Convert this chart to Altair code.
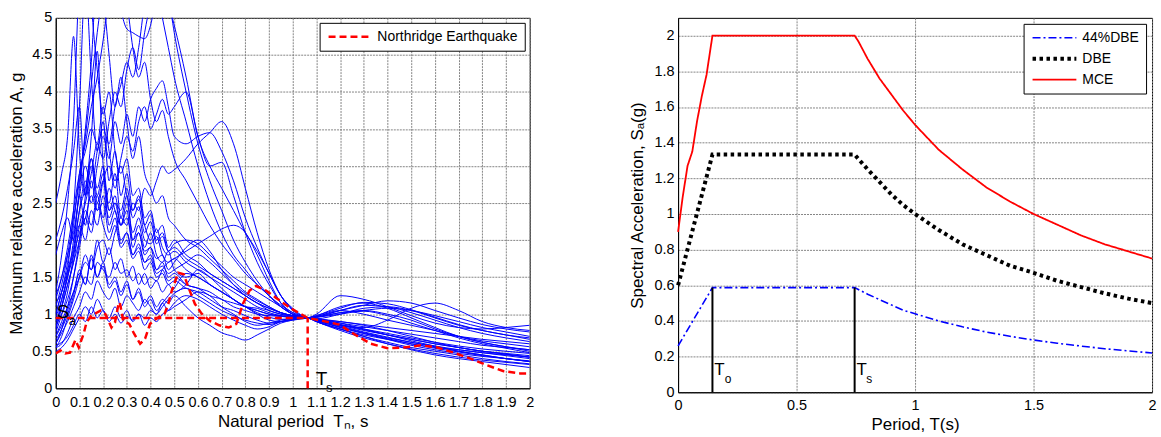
import altair as alt
import pandas as pd

# ---------------- Left panel: scaled response spectra ----------------
PERIOD_GRID = [0, 0.025, 0.05, 0.075, 0.1, 0.125, 0.15, 0.175, 0.2, 0.225,
               0.25, 0.275, 0.3, 0.325, 0.35, 0.375, 0.4, 0.425, 0.45, 0.475,
               0.5, 0.55, 0.6, 0.65, 0.7, 0.75, 0.8, 0.85, 0.9, 0.95,
               1.0, 1.063, 1.1, 1.2, 1.3, 1.4, 1.5, 1.6, 1.7, 1.8,
               1.9, 2.0]

REC_01 = [2.50, 2.90, 3.40, 4.75, 3.20, 2.60, 3.10, 2.70, 3.00, 2.40,
          2.60, 2.20, 2.40, 1.90, 2.10, 1.80, 1.90, 1.60, 1.70, 1.50,
          1.55, 1.40, 1.35, 1.25, 1.20, 1.10, 1.05, 1.00, 0.98, 0.97,
          0.96, 0.95, 0.92, 0.82, 0.74, 0.66, 0.58, 0.52, 0.47, 0.43,
          0.40, 0.37]
REC_02 = [1.30, 1.80, 2.50, 3.60, 5.60, 6.50, 5.20, 4.30, 3.70, 4.00,
          3.20, 2.90, 3.10, 2.60, 2.70, 2.30, 2.40, 2.10, 2.20, 1.90,
          2.00, 1.80, 1.70, 1.55, 1.45, 1.35, 1.25, 1.15, 1.08, 1.02,
          0.98, 0.95, 0.96, 1.02, 1.05, 1.00, 0.92, 0.80, 0.70, 0.62,
          0.56, 0.52]
REC_03 = [1.10, 1.40, 1.80, 2.30, 2.80, 3.40, 4.10, 4.80, 5.40, 5.80,
          5.50, 5.10, 4.85, 4.80, 4.75, 4.72, 4.90, 5.30, 5.60, 5.30,
          4.80, 4.00, 3.30, 2.80, 2.40, 2.00, 1.70, 1.45, 1.25, 1.10,
          1.00, 0.95, 0.98, 1.10, 1.15, 1.08, 0.95, 0.82, 0.70, 0.62,
          0.56, 0.50]
REC_04 = [0.90, 1.10, 1.40, 1.70, 2.20, 2.50, 2.90, 3.30, 3.10, 3.60,
          4.00, 3.80, 4.30, 4.60, 4.30, 4.80, 5.20, 5.50, 5.40, 5.20,
          4.90, 4.20, 3.40, 3.00, 2.70, 2.40, 2.10, 1.85, 1.55, 1.25,
          1.08, 0.95, 0.94, 1.00, 1.08, 1.10, 1.05, 0.95, 0.85, 0.78,
          0.72, 0.68]
REC_05 = [0.80, 1.20, 1.50, 2.00, 2.70, 3.50, 4.40, 5.60, 5.30, 4.50,
          3.80, 4.20, 3.60, 3.10, 3.40, 2.90, 2.70, 2.50, 2.60, 2.30,
          2.20, 2.00, 1.90, 1.75, 1.60, 1.45, 1.30, 1.20, 1.10, 1.02,
          0.98, 0.95, 0.92, 0.85, 0.78, 0.72, 0.66, 0.60, 0.55, 0.50,
          0.47, 0.44]
REC_06 = [0.70, 0.90, 1.10, 1.30, 1.50, 1.70, 1.60, 1.90, 2.00, 1.80,
          2.10, 2.30, 2.20, 2.50, 2.40, 2.70, 2.60, 2.80, 3.00, 2.90,
          2.95, 3.10, 3.30, 3.45, 3.60, 3.30, 2.70, 2.10, 1.60, 1.25,
          1.05, 0.95, 0.96, 1.05, 1.12, 1.10, 1.02, 0.92, 0.82, 0.74,
          0.68, 0.63]
REC_07 = [1.00, 1.30, 1.60, 1.90, 2.40, 2.80, 2.50, 3.00, 3.40, 3.10,
          3.60, 3.30, 3.70, 3.40, 3.80, 3.60, 3.90, 4.05, 4.15, 3.80,
          3.40, 3.30, 3.40, 3.45, 3.20, 2.80, 2.30, 1.90, 1.55, 1.25,
          1.06, 0.95, 0.93, 0.90, 0.85, 0.78, 0.70, 0.62, 0.55, 0.50,
          0.46, 0.42]
REC_08 = [0.95, 1.20, 1.50, 1.80, 2.10, 2.30, 2.60, 2.40, 2.80, 3.00,
          2.70, 3.10, 3.40, 3.20, 3.60, 3.80, 3.50, 3.70, 3.90, 3.70,
          3.80, 4.00, 3.40, 3.00, 3.05, 2.60, 2.10, 1.70, 1.40, 1.15,
          1.02, 0.95, 0.97, 1.05, 1.00, 0.92, 0.85, 0.78, 0.70, 0.64,
          0.60, 0.56]
REC_09 = [1.20, 1.50, 1.90, 2.40, 2.90, 3.20, 3.50, 3.30, 3.80, 3.20,
          2.80, 3.00, 2.60, 2.40, 2.55, 2.20, 2.00, 2.15, 1.90, 1.80,
          1.85, 1.70, 1.60, 1.50, 1.40, 1.30, 1.20, 1.10, 1.05, 1.00,
          0.97, 0.95, 0.90, 0.80, 0.72, 0.66, 0.60, 0.55, 0.52, 0.48,
          0.45, 0.42]
REC_10 = [0.60, 0.80, 1.10, 1.50, 2.00, 2.60, 3.40, 4.55, 3.00, 2.50,
          2.90, 2.30, 2.60, 2.00, 2.20, 1.90, 2.10, 1.80, 1.70, 1.85,
          1.60, 1.50, 1.55, 1.40, 1.30, 1.20, 1.10, 1.08, 1.02, 0.98,
          0.96, 0.95, 0.96, 1.00, 1.05, 1.08, 1.05, 0.98, 0.90, 0.82,
          0.76, 0.70]
REC_11 = [2.00, 2.30, 2.70, 3.20, 3.80, 2.60, 3.00, 2.50, 2.80, 2.20,
          2.40, 2.00, 2.10, 1.80, 1.95, 1.70, 1.75, 1.55, 1.60, 1.45,
          1.50, 1.40, 1.35, 1.30, 1.20, 1.15, 1.10, 1.05, 1.00, 0.98,
          0.96, 0.95, 0.92, 0.86, 0.80, 0.74, 0.68, 0.62, 0.57, 0.53,
          0.50, 0.47]
REC_12 = [0.75, 1.00, 1.30, 1.80, 2.40, 2.70, 3.10, 2.60, 2.90, 2.40,
          2.50, 2.20, 2.30, 2.00, 2.10, 1.85, 1.90, 1.75, 1.80, 1.60,
          1.70, 1.90, 2.00, 1.85, 1.60, 1.40, 1.25, 1.15, 1.08, 1.02,
          0.98, 0.95, 0.93, 0.88, 0.83, 0.78, 0.73, 0.68, 0.63, 0.58,
          0.55, 0.52]
REC_13 = [0.55, 0.70, 0.95, 1.20, 1.50, 1.80, 1.60, 2.00, 1.70, 1.90,
          1.60, 1.75, 1.50, 1.65, 1.40, 1.55, 1.35, 1.45, 1.30, 1.40,
          1.30, 1.40, 1.60, 1.50, 1.35, 1.20, 1.10, 1.05, 1.00, 0.97,
          0.96, 0.95, 0.90, 0.78, 0.68, 0.60, 0.53, 0.47, 0.42, 0.38,
          0.35, 0.32]
REC_14 = [0.55, 0.60, 0.75, 0.95, 1.10, 1.30, 1.20, 1.45, 1.30, 1.20,
          1.35, 1.10, 1.25, 1.15, 1.05, 1.20, 1.10, 1.00, 1.15, 1.05,
          1.10, 1.20, 1.30, 1.25, 1.10, 1.00, 0.90, 0.85, 0.88, 0.92,
          0.94, 0.95, 0.97, 1.05, 1.12, 1.18, 1.15, 1.05, 0.95, 0.86,
          0.80, 0.76]
REC_15 = [0.65, 0.80, 1.00, 1.25, 1.60, 1.40, 1.80, 1.50, 1.70, 1.40,
          1.50, 1.30, 1.45, 1.20, 1.35, 1.15, 1.25, 1.10, 1.20, 1.15,
          1.25, 1.10, 0.95, 0.85, 0.75, 0.70, 0.65, 0.72, 0.80, 0.88,
          0.92, 0.95, 0.94, 0.90, 0.86, 0.82, 0.78, 0.74, 0.70, 0.66,
          0.63, 0.60]
REC_16 = [0.85, 1.00, 1.20, 1.50, 1.90, 2.30, 2.10, 2.50, 2.20, 2.00,
          2.20, 1.90, 2.00, 1.75, 1.85, 1.60, 1.70, 1.50, 1.55, 1.40,
          1.45, 1.35, 1.30, 1.20, 1.10, 1.05, 0.98, 0.92, 0.88, 0.90,
          0.93, 0.95, 0.93, 0.85, 0.82, 0.92, 1.08, 1.15, 1.05, 0.90,
          0.82, 0.78]
REC_17 = [0.50, 0.55, 0.65, 0.80, 0.95, 1.10, 1.00, 1.20, 1.05, 0.95,
          1.10, 0.95, 1.05, 0.90, 1.00, 0.85, 0.95, 0.90, 1.00, 1.05,
          1.15, 1.25, 1.20, 1.10, 1.00, 0.92, 0.85, 0.80, 0.83, 0.90,
          0.93, 0.95, 0.90, 0.80, 0.70, 0.62, 0.55, 0.50, 0.45, 0.40,
          0.36, 0.33]
REC_18 = [0.60, 0.75, 0.90, 1.10, 1.30, 1.50, 1.40, 1.70, 1.60, 1.50,
          1.70, 1.55, 1.60, 1.45, 1.55, 1.40, 1.50, 1.45, 1.60, 1.70,
          1.75, 1.85, 1.95, 2.05, 2.15, 2.20, 2.10, 1.80, 1.45, 1.15,
          1.00, 0.95, 0.96, 1.02, 1.04, 0.98, 0.88, 0.78, 0.68, 0.60,
          0.54, 0.48]
REC_19 = [1.15, 1.30, 1.55, 1.85, 2.20, 2.00, 2.40, 2.20, 2.60, 2.30,
          2.50, 2.40, 2.70, 2.30, 2.45, 2.10, 2.25, 1.95, 2.05, 1.85,
          1.95, 2.00, 1.95, 1.80, 1.65, 1.50, 1.40, 1.30, 1.20, 1.10,
          1.00, 0.95, 0.92, 0.84, 0.76, 0.69, 0.62, 0.56, 0.50, 0.45,
          0.40, 0.36]
REC_20 = [1.00, 1.30, 1.70, 2.20, 2.90, 3.30, 3.80, 4.20, 4.70, 5.30,
          5.80, 5.50, 5.20, 4.60, 4.20, 4.40, 3.90, 3.60, 3.75, 3.40,
          3.10, 2.80, 2.50, 2.20, 1.95, 1.75, 1.55, 1.40, 1.25, 1.12,
          1.02, 0.95, 0.90, 0.80, 0.70, 0.60, 0.52, 0.45, 0.40, 0.36,
          0.32, 0.28]
REC_21 = [1.25, 1.50, 1.80, 2.10, 2.60, 3.00, 2.70, 3.20, 3.50, 3.30,
          3.80, 4.10, 4.40, 4.20, 4.60, 5.20, 5.60, 5.40, 5.00, 4.60,
          4.20, 3.60, 3.00, 2.50, 2.10, 1.80, 1.60, 1.40, 1.25, 1.10,
          1.00, 0.95, 0.93, 0.86, 0.79, 0.72, 0.66, 0.60, 0.55, 0.50,
          0.46, 0.42]
REC_22 = [0.70, 0.85, 1.05, 1.30, 1.55, 1.40, 1.75, 1.50, 1.65, 1.35,
          1.45, 1.25, 1.40, 1.20, 1.30, 1.10, 1.20, 1.05, 1.15, 1.25,
          1.35, 1.55, 1.50, 1.40, 1.30, 1.20, 1.10, 1.00, 0.92, 0.90,
          0.92, 0.95, 0.98, 1.08, 1.16, 1.14, 1.06, 0.96, 0.86, 0.78,
          0.72, 0.66]
REC_23 = [0.57, 0.62, 0.70, 0.85, 1.00, 0.90, 1.10, 0.95, 1.05, 0.90,
          1.00, 0.88, 0.97, 0.92, 1.00, 0.95, 1.05, 1.00, 1.10, 1.20,
          1.28, 1.35, 1.25, 1.15, 1.05, 0.98, 0.92, 0.88, 0.86, 0.90,
          0.93, 0.95, 0.94, 0.88, 0.80, 0.72, 0.64, 0.57, 0.50, 0.45,
          0.40, 0.36]
REC_24 = [1.80, 2.10, 2.30, 2.00, 2.60, 2.20, 2.80, 2.40, 2.50, 2.10,
          2.30, 1.95, 2.10, 1.80, 1.90, 1.70, 1.80, 1.60, 1.65, 1.55,
          1.60, 1.70, 1.80, 1.70, 1.55, 1.40, 1.28, 1.18, 1.10, 1.02,
          0.98, 0.95, 0.91, 0.83, 0.75, 0.68, 0.62, 0.57, 0.52, 0.48,
          0.44, 0.40]
REC_25 = [0.90, 1.10, 1.40, 1.70, 2.00, 2.40, 2.20, 2.60, 2.30, 2.70,
          2.40, 2.20, 2.50, 2.10, 2.30, 2.00, 1.95, 2.05, 1.80, 1.70,
          1.75, 1.60, 1.50, 1.40, 1.30, 1.20, 1.10, 1.02, 0.96, 0.93,
          0.94, 0.95, 1.00, 1.25, 1.20, 1.10, 0.98, 0.88, 0.82, 0.80,
          0.82, 0.85]
REC_26 = [0.80, 1.10, 1.60, 2.40, 3.80, 5.50, 4.20, 3.20, 3.60, 2.80,
          3.20, 2.60, 2.90, 2.40, 2.60, 2.20, 2.35, 2.00, 2.10, 1.85,
          1.90, 1.75, 1.65, 1.55, 1.45, 1.35, 1.25, 1.15, 1.05, 1.00,
          0.97, 0.95, 0.91, 0.82, 0.74, 0.67, 0.60, 0.54, 0.49, 0.44,
          0.40, 0.36]

RECORDS = [REC_01, REC_02, REC_03, REC_04, REC_05, REC_06, REC_07, REC_08,
           REC_09, REC_10, REC_11, REC_12, REC_13, REC_14, REC_15, REC_16,
           REC_17, REC_18, REC_19, REC_20, REC_21, REC_22, REC_23, REC_24,
           REC_25, REC_26]

NORTH_T = [0, 0.02, 0.04, 0.06, 0.083, 0.097, 0.118, 0.13, 0.15, 0.19,
           0.21, 0.235, 0.25, 0.265, 0.27, 0.285, 0.31, 0.33, 0.356, 0.377,
           0.398, 0.425, 0.46, 0.475, 0.49, 0.517, 0.54, 0.56, 0.587, 0.615,
           0.65, 0.69, 0.73, 0.762, 0.79, 0.818, 0.845, 0.887, 0.93, 0.986,
           1.063, 1.126, 1.196, 1.27, 1.33, 1.40, 1.47, 1.54, 1.61, 1.68,
           1.75, 1.82, 1.89, 1.96, 2.0]
NORTH_A = [0.47, 0.51, 0.47, 0.48, 0.65, 0.55, 0.74, 0.89, 0.98, 1.05,
           1.00, 0.82, 0.89, 1.14, 1.16, 0.91, 0.87, 0.74, 0.60, 0.67,
           0.87, 0.94, 1.01, 1.14, 1.32, 1.56, 1.54, 1.36, 1.14, 1.01,
           0.91, 0.85, 0.82, 0.87, 1.14, 1.32, 1.38, 1.32, 1.22, 1.09,
           0.95, 0.91, 0.86, 0.71, 0.60, 0.54, 0.55, 0.58, 0.55, 0.48,
           0.40, 0.31, 0.23, 0.20, 0.20]

SA_LEVEL = 0.95
TS_LEFT = 1.063
LEFT_X_TICKS = [0, 0.1, 0.2, 0.3, 0.4, 0.5, 0.6, 0.7, 0.8, 0.9, 1.0,
                1.1, 1.2, 1.3, 1.4, 1.5, 1.6, 1.7, 1.8, 1.9, 2.0]
LEFT_Y_TICKS = [0, 0.5, 1, 1.5, 2, 2.5, 3, 3.5, 4, 4.5, 5]

# ---------------- Right panel: design spectra ----------------
MCE_T = [0, 0.02, 0.04, 0.06, 0.08, 0.1, 0.12, 0.145, 0.745, 0.76, 0.78,
         0.8, 0.85, 0.9, 0.95, 1.0, 1.1, 1.2, 1.3, 1.4, 1.5, 1.6, 1.7, 1.8,
         1.9, 2.0]
MCE_SA = [0.90, 1.10, 1.27, 1.35, 1.52, 1.66, 1.78, 2.0, 2.0, 1.97, 1.92,
          1.87, 1.76, 1.67, 1.58, 1.50, 1.36, 1.25, 1.15, 1.07, 1.00, 0.94,
          0.88, 0.83, 0.79, 0.75]
DBE_T = [0, 0.145, 0.745, 0.8, 0.85, 0.9, 0.95, 1.0, 1.1, 1.2, 1.3, 1.4,
         1.5, 1.6, 1.7, 1.8, 1.9, 2.0]
DBE_SA = [0.60, 1.333, 1.333, 1.25, 1.18, 1.11, 1.05, 1.00, 0.91, 0.83,
          0.77, 0.71, 0.67, 0.625, 0.59, 0.555, 0.525, 0.50]
DBE44_T = [0, 0.145, 0.745, 0.8, 0.85, 0.9, 0.95, 1.0, 1.1, 1.2, 1.3, 1.4,
           1.5, 1.6, 1.7, 1.8, 1.9, 2.0]
DBE44_SA = [0.26, 0.587, 0.587, 0.55, 0.52, 0.49, 0.46, 0.44, 0.40, 0.367,
            0.338, 0.314, 0.293, 0.275, 0.259, 0.244, 0.232, 0.22]
T0_RIGHT = 0.145
TS_RIGHT = 0.745
PLATEAU_44 = 0.587
SERIES = ["44%DBE", "DBE", "MCE"]
RIGHT_X_TICKS = [0, 0.5, 1, 1.5, 2]
RIGHT_Y_TICKS = [0, 0.2, 0.4, 0.6, 0.8, 1.0, 1.2, 1.4, 1.6, 1.8, 2.0]

FONT = "Liberation Sans"
LINE_SYMBOL = "M-1,0H7"

# ---------- build tables ----------
rows = []
for i, rec in enumerate(RECORDS):
    for t, a in zip(PERIOD_GRID, rec):
        rows.append({"T": t, "A": a, "rec": f"r{i}"})
spectra = pd.DataFrame(rows)
north = pd.DataFrame({"T": NORTH_T, "A": NORTH_A, "name": "Northridge Earthquake"})

left_x = alt.X("T:Q", scale=alt.Scale(domain=[0, 2], nice=False),
               axis=alt.Axis(values=LEFT_X_TICKS, tickCount=40, format="~g", grid=True,
                             ticks=False, labelPadding=7, titlePadding=5,
                             labelOverlap=False, labelFlush=False,
                             title="Natural period\u00a0 T\u2099, s"))
left_y = alt.Y("A:Q", scale=alt.Scale(domain=[0, 5], nice=False),
               axis=alt.Axis(values=LEFT_Y_TICKS, tickCount=40, format="~g", grid=True,
                             ticks=False, labelPadding=4, titlePadding=6,
                             labelOverlap=False, labelFlush=False,
                             title="Maximum relative acceleration A, g"))

blue = alt.Chart(spectra).mark_line(color="#0000ff", strokeWidth=1, clip=True,
                                    interpolate="monotone").encode(
    x=left_x, y=left_y, detail="rec:N")

legend_left = alt.Legend(title=None, orient="top-right", offset=5, symbolType=LINE_SYMBOL,
                         symbolSize=100, strokeColor="black", fillColor="white",
                         padding=7, labelFontSize=14, labelFont=FONT, labelOffset=37,
                         symbolStrokeWidth=2.5, cornerRadius=0)
red = alt.Chart(north).mark_line(strokeWidth=2.5, clip=True).encode(
    x="T:Q", y="A:Q",
    color=alt.Color("name:N", scale=alt.Scale(domain=["Northridge Earthquake"], range=["#ff0000"]),
                    legend=legend_left),
    strokeDash=alt.StrokeDash("name:N", scale=alt.Scale(domain=["Northridge Earthquake"],
                                                        range=[[7, 4]]),
                              legend=legend_left))

sa_h = alt.Chart(pd.DataFrame({"x": [0], "x2": [TS_LEFT], "y": [SA_LEVEL]})).mark_rule(
    color="#ff0000", strokeWidth=2.5, strokeDash=[7, 4]).encode(x="x:Q", x2="x2:Q", y="y:Q")
ts_v = alt.Chart(pd.DataFrame({"x": [TS_LEFT], "y": [0], "y2": [SA_LEVEL]})).mark_rule(
    color="#ff0000", strokeWidth=2.5, strokeDash=[7, 4]).encode(x="x:Q", y="y:Q", y2="y2:Q")

big_left = pd.DataFrame({"x": [0.004, 1.097], "y": [SA_LEVEL, 0.04], "t": ["S", "T"]})
small_left = pd.DataFrame({"x": [0.055, 1.14], "y": [0.85, -0.05], "t": ["a", "s"]})
lab_big = alt.Chart(big_left).mark_text(align="left", baseline="alphabetic", fontSize=19,
                                         font=FONT, color="black").encode(
    x="x:Q", y="y:Q", text="t:N")
lab_small = alt.Chart(small_left).mark_text(align="left", baseline="alphabetic", fontSize=13,
                                             font=FONT, color="black").encode(
    x="x:Q", y="y:Q", text="t:N")

left = alt.layer(blue, red, sa_h, ts_v, lab_big, lab_small).properties(width=476, height=372)

# ---------- right chart ----------
design = pd.concat([
    pd.DataFrame({"T": DBE44_T, "Sa": DBE44_SA, "series": "44%DBE"}),
    pd.DataFrame({"T": DBE_T, "Sa": DBE_SA, "series": "DBE"}),
    pd.DataFrame({"T": MCE_T, "Sa": MCE_SA, "series": "MCE"}),
], ignore_index=True)

right_x = alt.X("T:Q", scale=alt.Scale(domain=[0, 2], nice=False),
                axis=alt.Axis(values=RIGHT_X_TICKS, tickCount=40, format="~g", grid=True,
                              ticks=False, labelPadding=6, titlePadding=5, labelFlush=False,
                              title="Period, T(s)"))
right_y = alt.Y("Sa:Q", scale=alt.Scale(domain=[0, 2.1], nice=False),
                axis=alt.Axis(values=RIGHT_Y_TICKS, tickCount=40, format="~g", grid=True,
                              ticks=False, labelPadding=4, titlePadding=8, labelFlush=False,
                              labelOverlap=False, title="Spectral Acceleration, S\u2090(g)"))

legend_right = alt.Legend(title=None, orient="top-right", offset=6, symbolType=LINE_SYMBOL,
                          symbolSize=121, strokeColor="black", fillColor="white",
                          padding=7, labelFontSize=14, labelFont=FONT, labelOffset=37,
                          rowPadding=5.5, cornerRadius=0)
lines = alt.Chart(design).mark_line().encode(
    x=right_x, y=right_y,
    color=alt.Color("series:N", scale=alt.Scale(domain=SERIES, range=["#0000ff", "#000000", "#ff0000"]),
                    legend=legend_right),
    strokeDash=alt.StrokeDash("series:N", scale=alt.Scale(domain=SERIES,
                                                          range=[[8, 3, 2, 3], [3.5, 3.5], [1, 0]]),
                              legend=legend_right),
    strokeWidth=alt.StrokeWidth("series:N", scale=alt.Scale(type="ordinal", domain=SERIES,
                                                            range=[1.6, 4, 1.8]),
                                legend=legend_right))

vlines = alt.Chart(pd.DataFrame({"x": [T0_RIGHT, TS_RIGHT], "y": [0, 0],
                                 "y2": [PLATEAU_44, PLATEAU_44]})).mark_rule(
    color="black", strokeWidth=2).encode(x="x:Q", y="y:Q", y2="y2:Q")

big_right = pd.DataFrame({"x": [0.153, 0.753], "y": [0.094, 0.094], "t": ["T", "T"]})
small_right = pd.DataFrame({"x": [0.197, 0.794], "y": [0.05, 0.05], "t": ["o", "s"]})
rl_big = alt.Chart(big_right).mark_text(align="left", baseline="alphabetic", fontSize=17,
                                        font=FONT, color="black").encode(
    x="x:Q", y="y:Q", text="t:N")
rl_small = alt.Chart(small_right).mark_text(align="left", baseline="alphabetic", fontSize=12,
                                            font=FONT, color="black").encode(
    x="x:Q", y="y:Q", text="t:N")

right = alt.layer(lines, vlines, rl_big, rl_small).properties(width=476, height=376)

chart = alt.hconcat(left, right, spacing=93).resolve_scale(
    x="independent", y="independent", color="independent",
    strokeDash="independent", strokeWidth="independent").resolve_legend(
    color="independent", strokeDash="independent", strokeWidth="independent"
).properties(padding={"left": 7, "top": 8, "right": 0, "bottom": 0}).configure(
    font=FONT
).configure_view(stroke="black", strokeWidth=1).configure_axis(
    labelFont=FONT, labelFontSize=14.5, labelColor="black",
    titleFont=FONT, titleFontSize=17, titleFontWeight="normal", titleColor="black",
    domainColor="black", domainWidth=1,
    gridColor="#777777", gridDash=[2, 1], gridWidth=1, gridOpacity=0.9
).configure_legend(labelColor="black")

chart.save("out.html", embed_options={"renderer": "svg", "actions": False})
